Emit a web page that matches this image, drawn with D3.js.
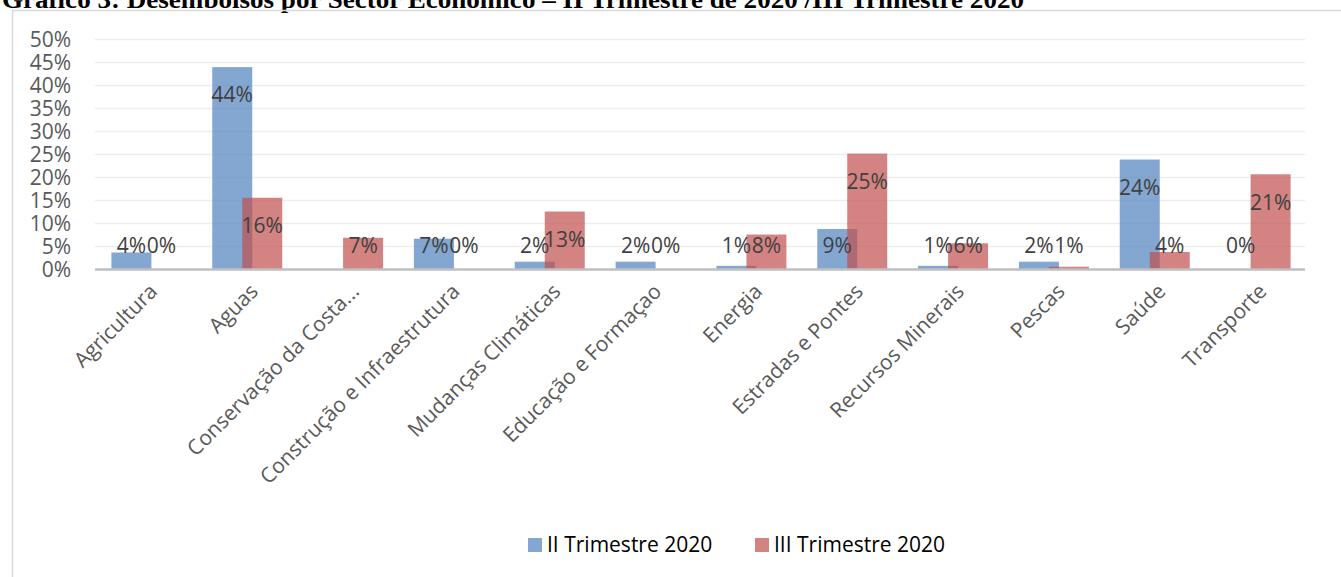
<!DOCTYPE html>
<html>
<head>
<meta charset="utf-8">
<script src="https://cdn.jsdelivr.net/npm/d3@7"></script>
<style>
  body { margin: 0; background: #fff; }
  svg { display: block; }
</style>
</head>
<body>
<script>
var W = 1341, H = 577;

var categories = [
  'Agricultura', 'Aguas', 'Conservação da Costa...', 'Construção e Infraestrutura',
  'Mudanças Climáticas', 'Educação e Formaçao', 'Energia', 'Estradas e Pontes',
  'Recursos Minerais', 'Pescas', 'Saúde', 'Transporte'
];
// null = no value in the source
var trim2 = [0.037, 0.44, null, 0.067, 0.017, 0.017, 0.008, 0.088, 0.008, 0.017, 0.239, 0];
var trim3 = [0, 0.156, 0.069, 0, 0.126, 0, 0.076, 0.252, 0.057, 0.006, 0.038, 0.207];
var seriesNames = ['II Trimestre 2020', 'III Trimestre 2020'];
var yTicks = [0, 0.05, 0.1, 0.15, 0.2, 0.25, 0.3, 0.35, 0.4, 0.45, 0.5];

var blue = '#4F81BD', red = '#C0504D';
var FONT = "'Open Sans', sans-serif";

var svg = d3.select('body').append('svg')
  .attr('width', W).attr('height', H);

// title, clipped at the top like the source
svg.append('text')
  .attr('x', 2).attr('y', 7.5)
  .attr('textLength', 1022).attr('lengthAdjust', 'spacingAndGlyphs')
  .style('font-family', "'Liberation Serif', 'Times New Roman', serif")
  .style('font-weight', 'bold')
  .style('font-size', '26px')
  .style('fill', '#000')
  .text('Gráfico 3: Desembolsos por Sector Económico – II Trimestre de 2020 /III Trimestre 2020');

// chart frame
svg.append('path')
  .attr('d', 'M12.5,' + H + 'V10.5H' + W)
  .attr('fill', 'none')
  .attr('stroke', '#D9D9D9')
  .attr('stroke-width', 1.5);

var x = d3.scaleBand().domain(categories).range([95, 1305]);
var y = d3.scaleLinear().domain([0, 0.5]).range([269.5, 39.5]);
var fmt = d3.format('.0%');

// gridlines
svg.append('g').selectAll('line').data(yTicks.slice(1)).join('line')
  .attr('x1', 95).attr('x2', 1305)
  .attr('y1', function(d) { return y(d); })
  .attr('y2', function(d) { return y(d); })
  .attr('stroke', '#EDEDED').attr('stroke-width', 1.5);

// y axis labels
var yAxis = svg.append('g')
  .attr('transform', 'translate(71,0)')
  .call(d3.axisLeft(y).tickValues(yTicks).tickFormat(fmt).tickSize(0).tickPadding(0));
yAxis.select('.domain').remove();
yAxis.selectAll('text')
  .style('font-family', FONT).style('font-size', '21px').style('fill', '#595959');

var barW = 40;
var bars = svg.append('g');
function drawSeries(vals, color, off) {
  bars.append('g').selectAll('rect')
    .data(vals.map(function(v, i) { return { c: categories[i], v: v }; })
      .filter(function(d) { return d.v !== null; }))
    .join('rect')
    .attr('x', function(d) { return x(d.c) + x.bandwidth() / 2 + off; })
    .attr('width', barW)
    .attr('y', function(d) { return y(d.v); })
    .attr('height', function(d) { return y(0) - y(d.v); })
    .attr('fill', color).attr('fill-opacity', 0.7);
}
drawSeries(trim2, blue, -34);
drawSeries(trim3, red, -4);

// baseline
svg.append('line')
  .attr('x1', 95).attr('x2', 1305)
  .attr('y1', y(0)).attr('y2', y(0))
  .attr('stroke', '#BFBFBF').attr('stroke-width', 2.5);

// data labels
function drawLabels(vals, off) {
  svg.append('g').selectAll('text')
    .data(vals.map(function(v, i) { return { c: categories[i], v: v }; })
      .filter(function(d) { return d.v !== null; }))
    .join('text')
    .attr('x', function(d) { return x(d.c) + x.bandwidth() / 2 + off + barW / 2; })
    .attr('y', function(d) { return Math.min(y(d.v) + 28, 246); })
    .attr('dy', '0.35em')
    .attr('text-anchor', 'middle')
    .style('font-family', FONT).style('font-size', '21px').style('fill', '#404040')
    .text(function(d) { return fmt(d.v); });
}
drawLabels(trim2, -34);
drawLabels(trim3, -4);

// category labels
var xAxis = svg.append('g')
  .attr('transform', 'translate(0,' + y(0) + ')')
  .call(d3.axisBottom(x).tickSize(0).tickPadding(0));
xAxis.select('.domain').remove();
xAxis.selectAll('text')
  .attr('y', 0).attr('dy', '0.35em')
  .attr('text-anchor', 'end')
  .attr('transform', 'translate(8,18) rotate(-45)')
  .style('font-family', FONT).style('font-size', '21px').style('fill', '#595959');

// legend
var legend = svg.append('g');
var legendX = [528, 755];
seriesNames.forEach(function(name, i) {
  legend.append('rect')
    .attr('x', legendX[i]).attr('y', 538)
    .attr('width', 14).attr('height', 14)
    .attr('fill', [blue, red][i]).attr('fill-opacity', 0.7);
  legend.append('text')
    .attr('x', legendX[i] + 19).attr('y', 545).attr('dy', '0.35em')
    .style('font-family', FONT).style('font-size', '21px').style('fill', '#000')
    .text(name);
});
</script>
</body>
</html>
